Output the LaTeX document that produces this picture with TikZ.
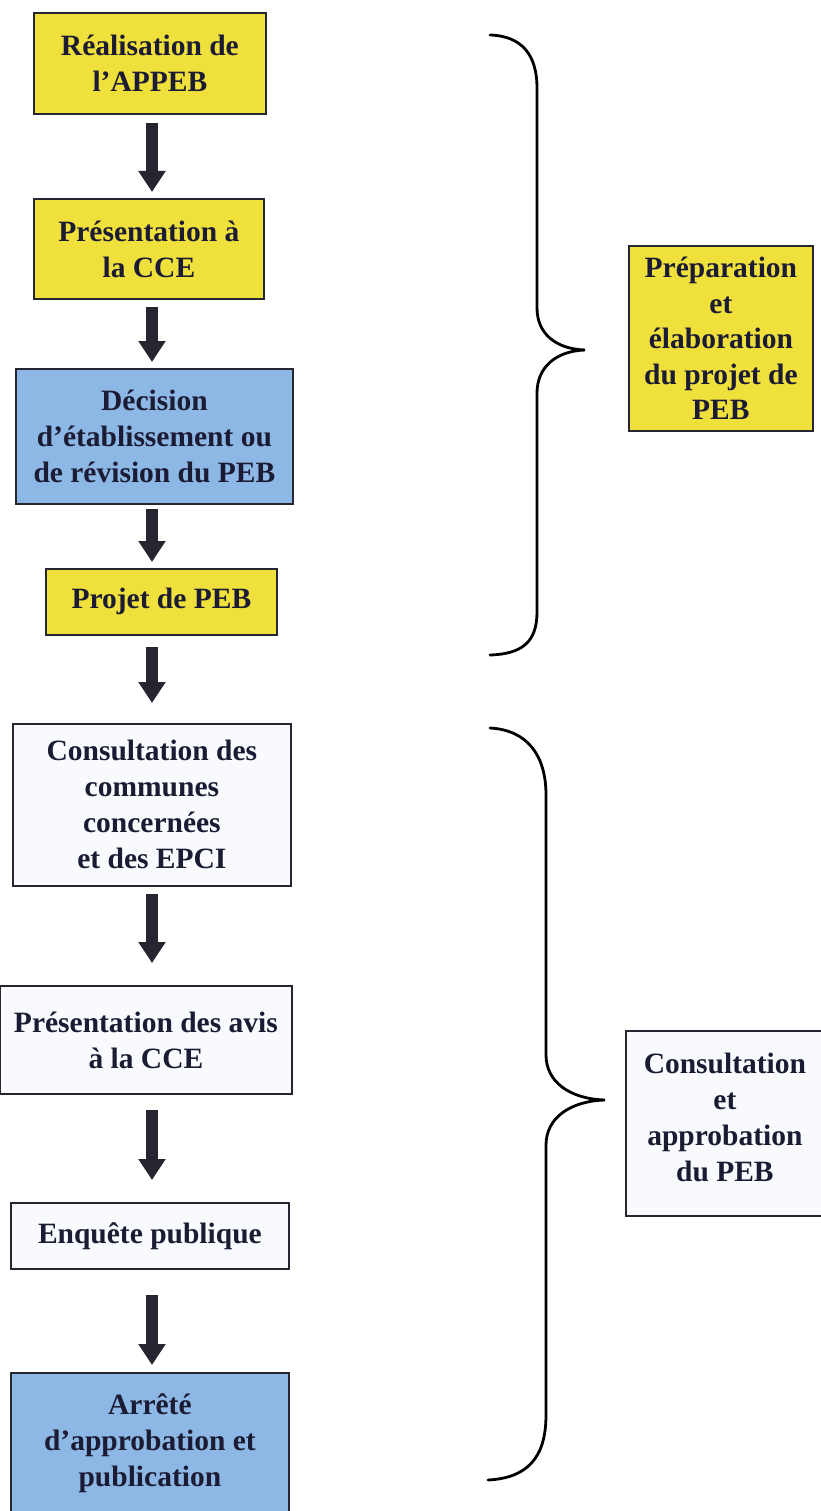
\documentclass[tikz,border=0pt]{standalone}
\usepackage{fontspec}
\setmainfont{Liberation Serif}
\usetikzlibrary{arrows.meta}
\definecolor{ybg}{HTML}{EFE03C}
\definecolor{bbg}{HTML}{8DB7E4}
\definecolor{wbg}{HTML}{F8FAFD}
\definecolor{ink}{HTML}{1B1B34}
\definecolor{edge}{HTML}{262630}
\tikzset{
  box/.style={draw=edge, line width=1.8pt, inner sep=0pt, anchor=north west, align=center,
    text=ink, font=\fontsize{29.5}{36}\selectfont\bfseries},
  ybox/.style={box, fill=ybg},
  bbox/.style={box, fill=bbg},
  wbox/.style={box, fill=wbg},
  bigarrow/.style={draw=edge, line width=12pt, -{Triangle[width=26pt,length=21pt]}},
  brace/.style={draw=black, line width=2.8pt, line cap=round}
}
\begin{document}
\begin{tikzpicture}[x=1pt,y=-1pt]
\useasboundingbox (0,0) rectangle (821,1511);
\coordinate (col) at (152,0);
% left column
\node[ybox, minimum width=232pt, minimum height=101pt] (b1) at (33,12) {Réalisation de\\l’APPEB};
\node[ybox, minimum width=230pt, minimum height=100pt] (b2) at (33,198) {Présentation à\\la CCE};
\node[bbox, minimum width=277pt, minimum height=135pt] (b3) at (15,368) {Décision\\d’établissement ou\\de révision du PEB};
\node[ybox, minimum width=231pt, minimum height=66pt] (b4) at (45,568) {Projet de PEB};
\node[wbox, minimum width=278pt, minimum height=162pt] (b5) at (12,723) {Consultation des\\communes\\concernées\\et des EPCI};
\node[wbox, minimum width=292pt, minimum height=108pt] (b6) at (-1,985) {Présentation des avis\\à la CCE};
\node[wbox, minimum width=278pt, minimum height=66pt] (b7) at (10,1202) {Enquête publique};
\node[bbox, minimum width=278pt, minimum height=141pt] (b8) at (10,1372) {Arrêté\\d’approbation et\\publication};
% arrows
\draw[bigarrow, shorten <=8pt, shorten >=6pt] (b1.south -| col) -- (b2.north -| col);
\draw[bigarrow, shorten <=7pt, shorten >=6pt] (b2.south -| col) -- (b3.north -| col);
\draw[bigarrow, shorten <=4pt, shorten >=6pt] (b3.south -| col) -- (b4.north -| col);
\draw[bigarrow, shorten <=11pt, shorten >=20pt] (b4.south -| col) -- (b5.north -| col);
\draw[bigarrow, shorten <=7pt, shorten >=22pt] (b5.south -| col) -- (b6.north -| col);
\draw[bigarrow, shorten <=15pt, shorten >=22pt] (b6.south -| col) -- (b7.north -| col);
\draw[bigarrow, shorten <=25pt, shorten >=7pt] (b7.south -| col) -- (b8.north -| col);
% right boxes
\node[ybox, minimum width=184pt, minimum height=185pt, font=\fontsize{29.5}{35.5}\selectfont\bfseries] (r1) at (628,245) {Préparation\\et\\élaboration\\du projet de\\PEB};
\node[wbox, minimum width=198pt, minimum height=185pt, anchor=north west] (r2) at (625,1030)
  {\parbox[c][141pt][t]{194pt}{\centering\fontsize{29.5}{36}\selectfont\bfseries Consultation\\et\\approbation\\du PEB}};
% braces
\coordinate (t1) at (585,350);
\coordinate (t2) at (605,1100);
\draw[brace] (490,35) .. controls (522,36) and (537,55) .. (537,88) -- (537,308)
  .. controls (537,333) and (555,349) .. (t1)
  .. controls (555,351) and (537,368) .. (537,393) -- (537,612)
  .. controls (537,642) and (522,654) .. (490,655);
\draw[brace] (490,728) .. controls (527,730) and (546,755) .. (546,795) -- (546,1055)
  .. controls (546,1082) and (570,1099) .. (t2)
  .. controls (570,1101) and (546,1118) .. (546,1145) -- (546,1415)
  .. controls (546,1458) and (527,1478) .. (488,1480);
\end{tikzpicture}
\end{document}
